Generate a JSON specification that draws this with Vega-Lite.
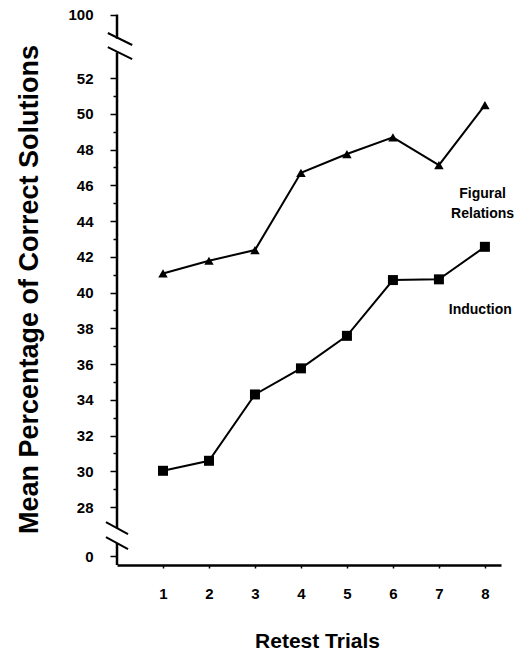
{
  "$schema": "https://vega.github.io/schema/vega-lite/v6.json",
  "width": 384,
  "height": 552,
  "autosize": "none",
  "padding": {"left": 117, "top": 13, "right": 20, "bottom": 103},
  "background": "white",
  "config": {"view": {"stroke": null}},
  "resolve": {"axis": {"y": "independent"}},
  "data": {
    "values": [
      {"trial": 1, "pct": 41.07, "series": "Figural Relations"},
      {"trial": 2, "pct": 41.78, "series": "Figural Relations"},
      {"trial": 3, "pct": 42.38, "series": "Figural Relations"},
      {"trial": 4, "pct": 46.7, "series": "Figural Relations"},
      {"trial": 5, "pct": 47.75, "series": "Figural Relations"},
      {"trial": 6, "pct": 48.68, "series": "Figural Relations"},
      {"trial": 7, "pct": 47.13, "series": "Figural Relations"},
      {"trial": 8, "pct": 50.49, "series": "Figural Relations"},
      {"trial": 1, "pct": 30.03, "series": "Induction"},
      {"trial": 2, "pct": 30.59, "series": "Induction"},
      {"trial": 3, "pct": 34.3, "series": "Induction"},
      {"trial": 4, "pct": 35.76, "series": "Induction"},
      {"trial": 5, "pct": 37.58, "series": "Induction"},
      {"trial": 6, "pct": 40.7, "series": "Induction"},
      {"trial": 7, "pct": 40.74, "series": "Induction"},
      {"trial": 8, "pct": 42.56, "series": "Induction"}
    ]
  },
  "layer": [
    {
      "layer": [
        {
          "mark": {"type": "line", "color": "black", "strokeWidth": 2},
          "encoding": {
            "x": {
              "field": "trial", "type": "quantitative",
              "scale": {"domain": [0, 8.35], "nice": false, "zero": false},
              "axis": {
                "title": "Retest Trials",
                "values": [1, 2, 3, 4, 5, 6, 7, 8],
                "tickCount": 100,
                "format": "d",
                "grid": false,
                "domainColor": "black", "domainWidth": 2.5,
                "tickColor": "black", "tickSize": 3, "tickWidth": 1.5,
                "labelFont": "Liberation Sans", "labelFontWeight": "bold", "labelFontSize": 15, "labelColor": "black",
                "labelPadding": 18,
                "titleFont": "Liberation Sans", "titleFontWeight": "bold", "titleFontSize": 21, "titleColor": "black",
                "titlePadding": 29,
                "titleX": 200
              }
            },
            "y": {
              "field": "pct", "type": "quantitative",
              "scale": {"domain": [24.76, 55.64], "nice": false, "zero": false},
              "axis": {
                "title": "Mean Percentage of Correct Solutions",
                "orient": "left",
                "values": [25.26, 28, 30, 32, 34, 36, 38, 40, 42, 44, 46, 48, 50, 52, 55.55],
                "tickCount": 100,
                "labelExpr": "datum.value < 27 ? '0' : (datum.value > 53 ? '100' : format(datum.value, 'd'))",
                "grid": false,
                "domain": false,
                "tickColor": "black", "tickWidth": 1.5, "tickSize": 7,
                "labelFont": "Liberation Sans", "labelFontWeight": "bold", "labelFontSize": 15, "labelColor": "black",
                "labelPadding": 17, "labelOverlap": false, "labelBound": false, "labelFlush": false,
                "titleFont": "Liberation Sans", "titleFontWeight": "bold", "titleFontSize": 27, "titleColor": "black",
                "titlePadding": 24
              }
            },
            "detail": {"field": "series", "type": "nominal"}
          }
        },
        {
          "transform": [{"filter": "datum.series == 'Figural Relations'"}],
          "mark": {"type": "point", "shape": "triangle-up", "filled": true, "color": "black", "opacity": 1, "size": 90},
          "encoding": {
            "x": {"field": "trial", "type": "quantitative"},
            "y": {"field": "pct", "type": "quantitative"}
          }
        },
        {
          "transform": [{"filter": "datum.series == 'Induction'"}],
          "mark": {"type": "square", "color": "black", "opacity": 1, "size": 100},
          "encoding": {
            "x": {"field": "trial", "type": "quantitative"},
            "y": {"field": "pct", "type": "quantitative"}
          }
        }
      ]
    },
    {
      "data": {"values": [{}]},
      "layer": [
        {"mark": {"type": "rule", "color": "black", "strokeWidth": 2.5}, "encoding": {
          "x": {"datum": 0},
          "y": {"datum": 55.55, "type": "quantitative", "axis": {"orient": "left", "title": null, "values": [29, 31, 33, 35, 37, 39, 41, 43, 45, 47, 49, 51], "tickCount": 100, "labels": false, "domain": false, "grid": false, "tickColor": "black", "tickWidth": 1.5, "tickSize": 4}},
          "y2": {"datum": 54.2}}},
        {"mark": {"type": "rule", "color": "black", "strokeWidth": 2.5}, "encoding": {"x": {"datum": 0}, "y": {"datum": 53.45}, "y2": {"datum": 26.83}}},
        {"mark": {"type": "rule", "color": "black", "strokeWidth": 2.5}, "encoding": {"x": {"datum": 0}, "y": {"datum": 25.99}, "y2": {"datum": 24.76}}},
        {"mark": {"type": "rule", "color": "black", "strokeWidth": 2}, "encoding": {"x": {"datum": -0.2}, "x2": {"datum": 0.33}, "y": {"datum": 54.52}, "y2": {"datum": 53.85}}},
        {"mark": {"type": "rule", "color": "black", "strokeWidth": 2}, "encoding": {"x": {"datum": -0.2}, "x2": {"datum": 0.33}, "y": {"datum": 53.73}, "y2": {"datum": 53.06}}},
        {"mark": {"type": "rule", "color": "black", "strokeWidth": 2}, "encoding": {"x": {"datum": -0.24}, "x2": {"datum": 0.24}, "y": {"datum": 27.16}, "y2": {"datum": 26.49}}},
        {"mark": {"type": "rule", "color": "black", "strokeWidth": 2}, "encoding": {"x": {"datum": -0.24}, "x2": {"datum": 0.24}, "y": {"datum": 26.32}, "y2": {"datum": 25.65}}},
        {
          "mark": {"type": "text", "text": ["Figural", "Relations"], "font": "Liberation Sans", "fontWeight": "bold", "fontSize": 14, "lineHeight": 20, "align": "center", "baseline": "middle", "color": "black"},
          "encoding": {"x": {"datum": 7.95}, "y": {"datum": 45.5}}
        },
        {
          "mark": {"type": "text", "text": "Induction", "font": "Liberation Sans", "fontWeight": "bold", "fontSize": 14, "align": "center", "baseline": "middle", "color": "black"},
          "encoding": {"x": {"datum": 7.9}, "y": {"datum": 39.0}}
        }
      ]
    }
  ]
}
